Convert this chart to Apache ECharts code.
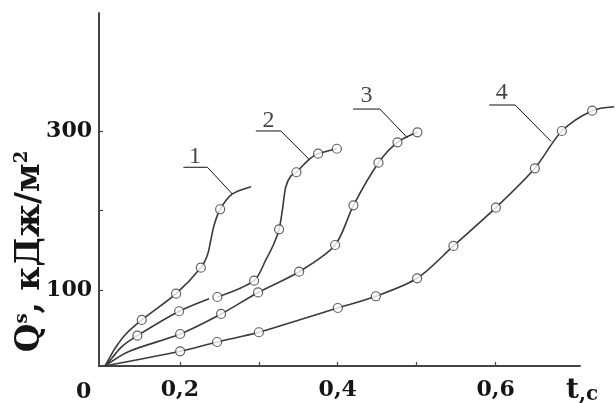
<!DOCTYPE html>
<html><head><meta charset="utf-8">
<script src="https://cdn.jsdelivr.net/npm/echarts@6/dist/echarts.min.js"></script>
<style>html,body{margin:0;padding:0;background:#fff}#c{width:616px;height:403px}</style>
</head><body><div id="c"></div>
<script>
// axis ticks / labels
const xTickValues = [0.2, 0.3, 0.4, 0.5, 0.6];
const xLabelValues = [0.2, 0.4, 0.6];
const yTickValues = [100, 200, 300];
const yLabelValues = [100, 300];

// curve shapes [t, Q]
const curve1 = [[0.105,4],[0.1094,11.6],[0.1179,26.4],[0.1305,43.2],[0.1517,62.1],[0.1952,95.3],[0.2265,128.1],[0.2349,144.1],[0.2392,163.0],[0.2434,182.0],[0.2510,201.8],[0.2665,221.1],[0.2902,230.3]];
const curve2 = [[0.105,4],[0.1137,13.8],[0.1264,28.4],[0.1461,42.3],[0.1990,73.1],[0.2370,89.0],[0.242,'-'],[0.2475,91.1],[0.2940,111.7],[0.3089,137.8],[0.3194,158.9],[0.3257,176.5],[0.3299,200.9],[0.3342,230.3],[0.3406,243.8],[0.3477,248.5],[0.3637,264.9],[0.3752,271.9],[0.3989,278.2]];
const curve3 = [[0.105,4],[0.1347,22.1],[0.2003,44.4],[0.2522,69.7],[0.2991,96.8],[0.3511,123.0],[0.3967,156.7],[0.4199,206.8],[0.4516,260.6],[0.4757,286.3],[0.5010,298.9]];
const curve4 = [[0.105,4],[0.2003,22.5],[0.2471,34.3],[0.3000,46.6],[0.4001,77.2],[0.4483,92.0],[0.5006,114.7],[0.5466,155.5],[0.6004,203.8],[0.6498,253.5],[0.6840,300.6],[0.7224,326.2],[0.7503,331.2]];

// measured points (open circles)
const marks1 = [[0.1517,62.1],[0.1952,95.3],[0.2265,128.1],[0.2510,201.8]];
const marks2 = [[0.1461,42.3],[0.1990,73.1],[0.2475,91.1],[0.2940,111.7],[0.3257,176.5],[0.3477,248.5],[0.3752,271.9],[0.3989,278.2]];
const marks3 = [[0.2003,44.4],[0.2522,69.7],[0.2991,96.8],[0.3511,123.0],[0.3967,156.7],[0.4199,206.8],[0.4516,260.6],[0.4757,286.3],[0.5010,298.9]];
const marks4 = [[0.2003,22.5],[0.2471,34.3],[0.3000,46.6],[0.4001,77.2],[0.4483,92.0],[0.5006,114.7],[0.5466,155.5],[0.6004,203.8],[0.6498,253.5],[0.6840,300.6],[0.7224,326.2]];

// curve number annotations
const curveNames = ['1', '2', '3', '4'];
const namePos = [[0.2193,268.1],[0.3122,313.6],[0.4364,345.1],[0.6080,348.9]];
const lead1 = [[0.2044,254.8],[0.2349,254.8],[0.2665,221.1]];
const lead2 = [[0.2962,300.6],[0.3279,300.6],[0.3637,264.9]];
const lead3 = [[0.4195,328.3],[0.4534,328.3],[0.4883,292.1]];
const lead4 = [[0.5919,333.4],[0.6248,333.4],[0.6705,287.3]];

const curves = [curve1, curve2, curve3, curve4];
const marks = [marks1, marks2, marks3, marks4];
const leads = [lead1, lead2, lead3, lead4];

const X_MIN = 0.0975, X_MAX = 0.707, Y_MIN = 4, Y_MAX = 449.5;
const X_MAX_WIDE = 0.7526; // same scale, grid extended to the right edge

const INK = '#3a3a3a';
const TXT = '#151515';
const boldSerif = {fontFamily: 'DejaVu Serif', fontWeight: 'bold', color: TXT};

const series = [];
curves.forEach((d, i) => series.push({
  type: 'line', data: d, smooth: 0.3, showSymbol: false, symbol: 'none',
  xAxisIndex: i === 3 ? 1 : 0, yAxisIndex: i === 3 ? 1 : 0,
  connectNulls: false, clip: false, z: 2,
  lineStyle: {color: INK, width: 1.6}
}));
marks.forEach(d => series.push({
  type: 'scatter', data: d, symbol: 'circle', symbolSize: 9, clip: false, z: 4,
  itemStyle: {color: '#fff', borderColor: INK, borderWidth: 1.2}
}));
leads.forEach(d => series.push({
  type: 'line', data: d, smooth: false, symbol: 'none', showSymbol: false, z: 3,
  lineStyle: {color: '#111', width: 1}
}));
series.push({
  type: 'scatter', symbol: 'circle', symbolSize: 1, z: 5,
  itemStyle: {color: 'rgba(0,0,0,0)'},
  data: namePos.map((p, i) => ({value: p, name: curveNames[i]})),
  label: {show: true, position: 'inside', formatter: '{b}', fontFamily: 'Liberation Serif', fontSize: 24, color: TXT}
});

const chart = echarts.init(document.getElementById('c'), null, {renderer: 'canvas'});
chart.setOption({
  animation: false,
  backgroundColor: '#fff',
  grid: [
    {left: 99, right: 36, top: 13, bottom: 37, outerBoundsMode: 'none', containLabel: false},
    {left: 99, right: 0, top: 13, bottom: 37, outerBoundsMode: 'none', containLabel: false}
  ],
  xAxis: [{
    type: 'value', min: X_MIN, max: X_MAX, gridIndex: 0,
    axisLine: {show: true, lineStyle: {color: '#444', width: 2}},
    splitLine: {show: false},
    axisTick: {show: true, inside: true, length: 4, customValues: xTickValues, lineStyle: {color: '#444', width: 1.2}},
    axisLabel: Object.assign({customValues: xLabelValues, margin: 13, fontSize: 22,
      formatter: v => v.toFixed(1).replace('.', ',')}, boldSerif),
    name: '{t|t}{c|,c}', nameLocation: 'end', nameGap: -14, nameMoveOverlap: false,
    nameTextStyle: {align: 'left', verticalAlign: 'top', padding: [11, 0, 0, 0],
      rich: {t: Object.assign({fontSize: 28}, boldSerif), c: Object.assign({fontSize: 20, padding: [7, 0, 0, 0]}, boldSerif)}}
  }, {
    type: 'value', min: X_MIN, max: X_MAX_WIDE, gridIndex: 1, show: false
  }],
  yAxis: [{
    type: 'value', min: Y_MIN, max: Y_MAX, gridIndex: 0,
    axisLine: {show: true, lineStyle: {color: '#444', width: 2}},
    splitLine: {show: false},
    axisTick: {show: true, inside: true, length: 4, customValues: yTickValues, lineStyle: {color: '#444', width: 1.2}},
    axisLabel: Object.assign({customValues: yLabelValues, margin: 7, fontSize: 22}, boldSerif),
    name: '{q|Q}{s|s}{q|, кДж/м}{s|2}', nameLocation: 'middle', nameGap: 52, nameRotate: 90,
    nameMoveOverlap: false,
    nameTextStyle: {padding: [0, 124, 0, 0],
      rich: {q: Object.assign({fontSize: 33, lineHeight: 34}, boldSerif), s: Object.assign({fontSize: 18, verticalAlign: 'top', lineHeight: 34}, boldSerif)}}
  }, {
    type: 'value', min: Y_MIN, max: Y_MAX, gridIndex: 1, show: false
  }],
  graphic: [{type: 'text', left: 76, top: 381, style: {text: '0', font: 'bold 22px "DejaVu Serif"', fill: TXT}}],
  series: series
});
</script></body></html>
